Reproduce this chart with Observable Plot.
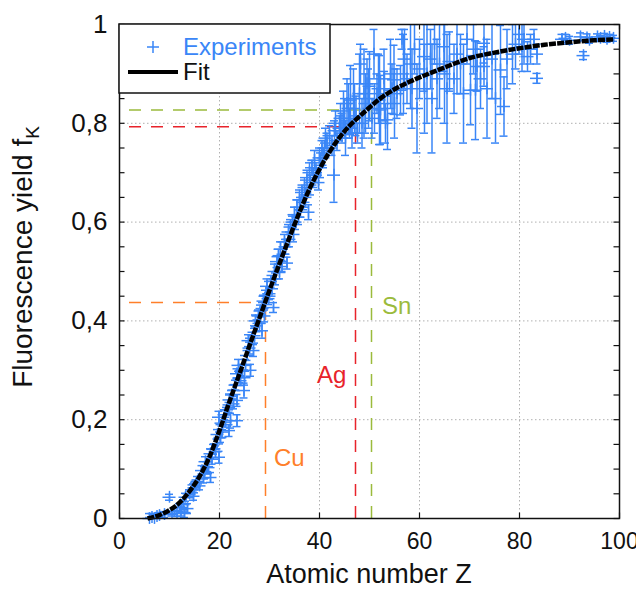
<!DOCTYPE html>
<html><head><meta charset="utf-8">
<script src="https://cdn.jsdelivr.net/npm/d3@7"></script>
<script src="https://cdn.jsdelivr.net/npm/@observablehq/plot@0.6"></script>
<style>
body{margin:0;background:#fff;}
#wrap{width:636px;height:589px;}
</style></head><body><div id="wrap"></div>
<script>
const blue = "#3a86f7";
const xTicks = [0, 20, 40, 60, 80, 100];
const xTickLabels = ["0", "20", "40", "60", "80", "100"];
const yTicks = [0, 0.2, 0.4, 0.6, 0.8, 1];
const yTickLabels = ["0", "0,2", "0,4", "0,6", "0,8", "1"];
const yMinorTicks = [0, 0.05, 0.1, 0.15, 0.2, 0.25, 0.3, 0.35, 0.4, 0.45, 0.5, 0.55, 0.6, 0.65, 0.7, 0.75, 0.8, 0.85, 0.9, 0.95, 1];
const xGrid = [20, 40, 60, 80];
const yGrid = [0.2, 0.4, 0.6, 0.8];

// Fit curve
const fitZ = [5.6, 8, 10, 12, 14, 16, 18, 20, 22, 24, 26, 28, 30, 32, 34, 36, 38, 40, 42, 44, 46, 48, 50, 52, 55, 58, 62, 66, 70, 75, 80, 85, 90, 95, 99];
const fitF = [0.0, 0.007, 0.017, 0.032, 0.055, 0.085, 0.125, 0.178, 0.237, 0.293, 0.35, 0.406, 0.462, 0.516, 0.569, 0.62, 0.667, 0.707, 0.742, 0.771, 0.795, 0.814, 0.832, 0.849, 0.869, 0.884, 0.901, 0.917, 0.932, 0.943, 0.952, 0.959, 0.964, 0.968, 0.97];

// Experimental points: Z, fluorescence yield, error
const expZ = [6, 6.5, 7, 7.5, 8, 9, 10, 10.5, 11, 11.5, 12, 12.3, 12.8, 13, 13.2, 13.6, 14, 14.5, 15, 15.3, 16, 16.5, 17, 17.5, 17.8, 18.2, 18.2, 18.8, 19.5, 19.9, 19.9, 20.2, 20.6, 21, 21.5, 21.9, 21.9, 22.2, 22.5, 22.9, 23.2, 23.5, 23.5, 23.5, 24, 24.2, 24.9, 25.2, 25.5, 26, 26.2, 26.5, 27, 27.5, 27.8, 28.2, 28.5, 28.8, 29.2, 29.5, 30, 30.3, 30.8, 31, 31.5, 31.8, 32.2, 32.5, 33, 33.5, 33.8, 34.2, 34.6, 35, 35.5, 36, 36.5, 37, 37.5, 37.8, 38, 38.5, 39, 39.8, 40, 40.5, 41, 41.5, 42, 42.9, 43, 43.5, 44,
  44.5, 45, 45.2, 45.5, 46, 46.2, 46.5, 47, 47.6, 48, 48.2, 48.5, 48.9, 49.2, 49.5, 50, 50.5, 50.9, 51, 51.5, 52, 52.2, 52.9, 53.2, 53.6, 54.2, 54.5, 54.9, 55.5, 56.2, 56.5, 57, 57.5, 58.2, 58.5, 59, 59.5, 60, 60.9, 61.5, 62.2, 62.5, 63, 63.5, 64, 64.9, 65.5, 66, 66.9, 67.5, 68.2, 68.8, 69.5, 70.2, 70.8, 71.2, 71.5, 72.2, 72.9, 72.9, 73.5, 74.5, 75.2, 76.2, 76.9, 77.5, 78.6, 79.2, 79.9, 80.5, 80.9, 81.6, 82.2, 82.9, 83.5, 83.5, 88.5, 89.2, 90, 92.2, 92.8, 93.5, 94, 95.6, 96.2, 97, 97.5, 98, 98.8,
  14.8, 15.6, 16.8, 17.2, 18.5, 19.2, 19.6, 20.5, 21.2, 22, 22.8, 23.8, 24.5, 25, 25.8, 26.8, 27.2, 28, 28.6, 29, 29.8, 30.5, 31.2, 32, 32.8, 33.2, 34, 34.8, 35.2, 35.8, 36.2, 36.8, 37.2, 38.2, 38.8, 39.3, 40.2, 40.8, 41.2, 42.5, 43.2, 44.2, 44.8, 45.8, 46.8, 47.3, 49.8, 51.8, 53, 55, 56.8, 61, 65];
const expF = [0.000, 0.002, 0.000, 0.004, 0.006, 0.008, 0.043, 0.010, 0.014, 0.010, 0.022, 0.015, 0.028, 0.012, 0.043, 0.020, 0.050, 0.058, 0.062, 0.070, 0.066, 0.097, 0.090, 0.105, 0.103, 0.083, 0.131, 0.140, 0.151, 0.124, 0.205, 0.164, 0.19, 0.21, 0.22, 0.178, 0.225, 0.198, 0.25, 0.259, 0.27, 0.239, 0.198, 0.293, 0.285, 0.279, 0.259, 0.31, 0.33, 0.345, 0.30, 0.365, 0.37, 0.39, 0.41, 0.42, 0.38, 0.44, 0.45, 0.47, 0.455, 0.48, 0.427, 0.50, 0.52, 0.53, 0.545, 0.51, 0.56, 0.517, 0.58, 0.59, 0.60, 0.615, 0.63, 0.645, 0.66, 0.67, 0.685, 0.62, 0.70, 0.71, 0.725, 0.68, 0.73, 0.745, 0.75, 0.76, 0.775, 0.695, 0.785, 0.765, 0.79,
  0.79, 0.81, 0.77, 0.84, 0.80, 0.847, 0.78, 0.83, 0.78, 0.86, 0.92, 0.80, 0.86, 0.84, 0.88, 0.875, 0.81, 0.94, 0.83, 0.86, 0.847, 0.827, 0.89, 0.80, 0.807, 0.90, 0.87, 0.888, 0.86, 0.867, 0.97, 0.93, 0.89, 0.92, 0.87, 0.95, 0.83, 0.91, 0.935, 0.90, 0.93, 0.85, 0.96, 0.89, 0.92, 0.955, 0.87, 0.925, 0.89, 0.94, 0.92, 0.86, 0.97, 0.867, 0.95, 0.867, 0.915, 0.89, 0.962, 0.915, 0.87, 0.93, 0.85, 0.908, 0.834, 0.93, 0.94, 0.96, 0.98, 0.955, 0.97, 0.935, 0.95, 0.97, 0.94, 0.891, 0.97, 0.972, 0.968, 0.975, 0.937, 0.973, 0.968, 0.975, 0.972, 0.976, 0.97, 0.974, 0.972,
  0.045, 0.075, 0.082, 0.115, 0.12, 0.135, 0.17, 0.175, 0.195, 0.24, 0.232, 0.31, 0.30, 0.285, 0.36, 0.34, 0.40, 0.395, 0.425, 0.41, 0.445, 0.465, 0.485, 0.50, 0.535, 0.55, 0.565, 0.575, 0.60, 0.61, 0.63, 0.64, 0.65, 0.675, 0.69, 0.70, 0.715, 0.73, 0.77, 0.755, 0.80, 0.81, 0.825, 0.83, 0.85, 0.815, 0.85, 0.87, 0.855, 0.84, 0.90, 0.87, 0.90];
const expErr = [0.01, 0.008, 0.008, 0.006, 0.006, 0.006, 0.006, 0.005, 0.006, 0.006, 0.008, 0.01, 0.01, 0.01, 0.008, 0.01, 0.008, 0.01, 0.01, 0.008, 0.008, 0.01, 0.01, 0.01, 0.012, 0.01, 0.01, 0.01, 0.01, 0.012, 0.012, 0.01, 0.01, 0.01, 0.01, 0.012, 0.01, 0.015, 0.01, 0.012, 0.01, 0.012, 0.012, 0.01, 0.01, 0.01, 0.015, 0.012, 0.01, 0.012, 0.012, 0.012, 0.015, 0.012, 0.012, 0.012, 0.015, 0.012, 0.012, 0.015, 0.012, 0.012, 0.01, 0.015, 0.012, 0.015, 0.015, 0.012, 0.015, 0.012, 0.015, 0.015, 0.012, 0.015, 0.015, 0.02, 0.015, 0.02, 0.02, 0.015, 0.02, 0.015, 0.02, 0.015, 0.02, 0.02, 0.015, 0.02, 0.02, 0.055, 0.02, 0.02, 0.025,
  0.03, 0.04, 0.035, 0.05, 0.03, 0.07, 0.03, 0.05, 0.02, 0.08, 0.04, 0.05, 0.09, 0.06, 0.05, 0.07, 0.04, 0.05, 0.05, 0.04, 0.09, 0.07, 0.06, 0.04, 0.06, 0.07, 0.05, 0.07, 0.05, 0.05, 0.02, 0.06, 0.05, 0.09, 0.08, 0.05, 0.09, 0.06, 0.07, 0.10, 0.06, 0.11, 0.04, 0.08, 0.09, 0.05, 0.11, 0.06, 0.07, 0.08, 0.06, 0.10, 0.05, 0.07, 0.05, 0.10, 0.05, 0.06, 0.04, 0.04, 0.10, 0.08, 0.09, 0.09, 0.06, 0.06, 0.06, 0.05, 0.04, 0.05, 0.05, 0.03, 0.03, 0.02, 0.02, 0.01, 0.01, 0.008, 0.008, 0.008, 0.008, 0.008, 0.006, 0.006, 0.006, 0.006, 0.006, 0.006, 0.006,
  0.008, 0.01, 0.01, 0.01, 0.01, 0.012, 0.01, 0.012, 0.01, 0.012, 0.01, 0.012, 0.012, 0.015, 0.012, 0.012, 0.012, 0.015, 0.012, 0.012, 0.012, 0.015, 0.012, 0.015, 0.015, 0.015, 0.015, 0.015, 0.015, 0.015, 0.02, 0.015, 0.02, 0.02, 0.02, 0.02, 0.025, 0.02, 0.02, 0.02, 0.025, 0.03, 0.04, 0.05, 0.06, 0.04, 0.06, 0.07, 0.05, 0.07, 0.08, 0.09, 0.10];

// Reference elements
const elements = ["Cu", "Ag", "Sn"];
const elemZ = [29.2, 47.2, 50.4];
const elemF = [0.437, 0.793, 0.827];
const elemColors = ["#ff7f2a", "#e8232b", "#9bbb3c"];
const elemLabelZ = [30.9, 39.5, 52.5];
const elemLabelF = [0.121, 0.289, 0.429];

const exp = expZ.map((z, i) => ({Z: z, F: expF[i], e: expErr[i]}));
const fit = fitZ.map((z, i) => ({Z: z, F: fitF[i]}));
const elems = elements.map((n, i) => ({name: n, Z: elemZ[i], F: elemF[i], color: elemColors[i], lz: elemLabelZ[i], lf: elemLabelF[i]}));

const font = "Liberation Sans, Arial, Helvetica, sans-serif";
const eb = {stroke: blue, strokeWidth: 1.5};
const chart = Plot.plot({
  width: 636, height: 589,
  marginLeft: 119, marginRight: 17, marginTop: 24, marginBottom: 71,
  style: {fontFamily: font, fontSize: "24px", color: "#111", background: "#fff", overflow: "visible"},
  x: {domain: [0, 100], ticks: xTicks, tickFormat: d => xTickLabels[xTicks.indexOf(d)], tickSize: 0, tickPadding: 14, label: null},
  y: {domain: [0, 1], ticks: yTicks, tickFormat: d => yTickLabels[yTicks.indexOf(d)], tickSize: 0, tickPadding: 12, label: null},
  marks: [
    Plot.ruleX(xGrid, {stroke: "#b0b0b0", strokeWidth: 1, strokeDasharray: "1.5,2.5"}),
    Plot.ruleY(yGrid, {stroke: "#b0b0b0", strokeWidth: 1, strokeDasharray: "1.5,2.5"}),
    Plot.ruleY(elems, {y: "F", x1: 0, x2: "Z", stroke: "color", strokeWidth: 1.5, strokeDasharray: "12,10", strokeDashoffset: 12}),
    Plot.ruleX(elems, {x: "Z", y1: 0, y2: "F", stroke: "color", strokeWidth: 1.5, strokeDasharray: "12,10"}),
    // vertical error bars + caps (clipped at the frame)
    Plot.ruleX(exp, {x: "Z", y1: d => d.F - d.e, y2: d => d.F + d.e, ...eb, clip: true}),
    Plot.ruleY(exp, {y: d => d.F + d.e, x1: d => d.Z - 0.8, x2: d => d.Z + 0.8, ...eb, clip: true}),
    Plot.ruleY(exp, {y: d => d.F - d.e, x1: d => d.Z - 0.8, x2: d => d.Z + 0.8, ...eb, clip: true}),
    // "+" markers
    Plot.ruleY(exp, {y: "F", x1: d => d.Z - 1.3, x2: d => d.Z + 1.3, ...eb}),
    Plot.ruleX(exp, {x: "Z", y1: d => d.F - 0.012, y2: d => d.F + 0.012, ...eb}),
    Plot.line(fit, {x: "Z", y: "F", stroke: "#000", strokeWidth: 4.5, strokeDasharray: "7,1.2", strokeLinecap: "butt", curve: "monotone-x"}),
    Plot.text(elems, {x: "lz", y: "lf", text: "name", fill: "color", fontSize: 24, textAnchor: "start"}),
    Plot.ruleY(yMinorTicks, {x1: 0, x2: 1.1, stroke: "#111", strokeWidth: 1.2}),
    Plot.ruleY(yMinorTicks, {x1: 98.9, x2: 100, stroke: "#111", strokeWidth: 1.2}),
    Plot.ruleX(xTicks, {y1: 0, y2: 0.011, stroke: "#111", strokeWidth: 1.2}),
    Plot.ruleX(xTicks, {y1: 0.989, y2: 1, stroke: "#111", strokeWidth: 1.2}),
    Plot.frame({stroke: "#111", strokeWidth: 1.5})
  ]
});
document.getElementById("wrap").appendChild(chart);

const svg = d3.select(chart);
svg.selectAll('g[aria-label="y-axis tick label"]').attr("font-size", 26);
svg.selectAll('g[aria-label="x-axis tick label"]').attr("font-size", 23);
// axis titles
svg.append("text").attr("x", 369).attr("y", 583).attr("text-anchor", "middle")
  .attr("font-family", font).attr("font-size", 27).attr("fill", "#111").text("Atomic number Z");
const yt = svg.append("text").attr("transform", "translate(32,257) rotate(-90)").attr("text-anchor", "middle")
  .attr("font-family", font).attr("font-size", 28).attr("fill", "#111");
yt.append("tspan").text("Fluorescence yield f");
yt.append("tspan").attr("dy", 7).attr("font-size", 19).text("K");

// legend
const lg = svg.append("g");
lg.append("rect").attr("x", 119).attr("y", 24).attr("width", 211).attr("height", 69)
  .attr("fill", "#fff").attr("stroke", "#111").attr("stroke-width", 1.5);
lg.append("path").attr("d", "M147,47h12M153,41v12").attr("stroke", blue).attr("stroke-width", 1.5);
lg.append("text").attr("x", 183).attr("y", 55).attr("text-anchor", "start").attr("font-family", font).attr("font-size", 24).attr("fill", blue).text("Experiments");
lg.append("line").attr("x1", 128).attr("x2", 178).attr("y1", 72).attr("y2", 72).attr("stroke", "#000").attr("stroke-width", 4);
lg.append("text").attr("x", 183).attr("y", 80).attr("text-anchor", "start").attr("font-family", font).attr("font-size", 24).attr("fill", "#111").text("Fit");
</script>
</body></html>
